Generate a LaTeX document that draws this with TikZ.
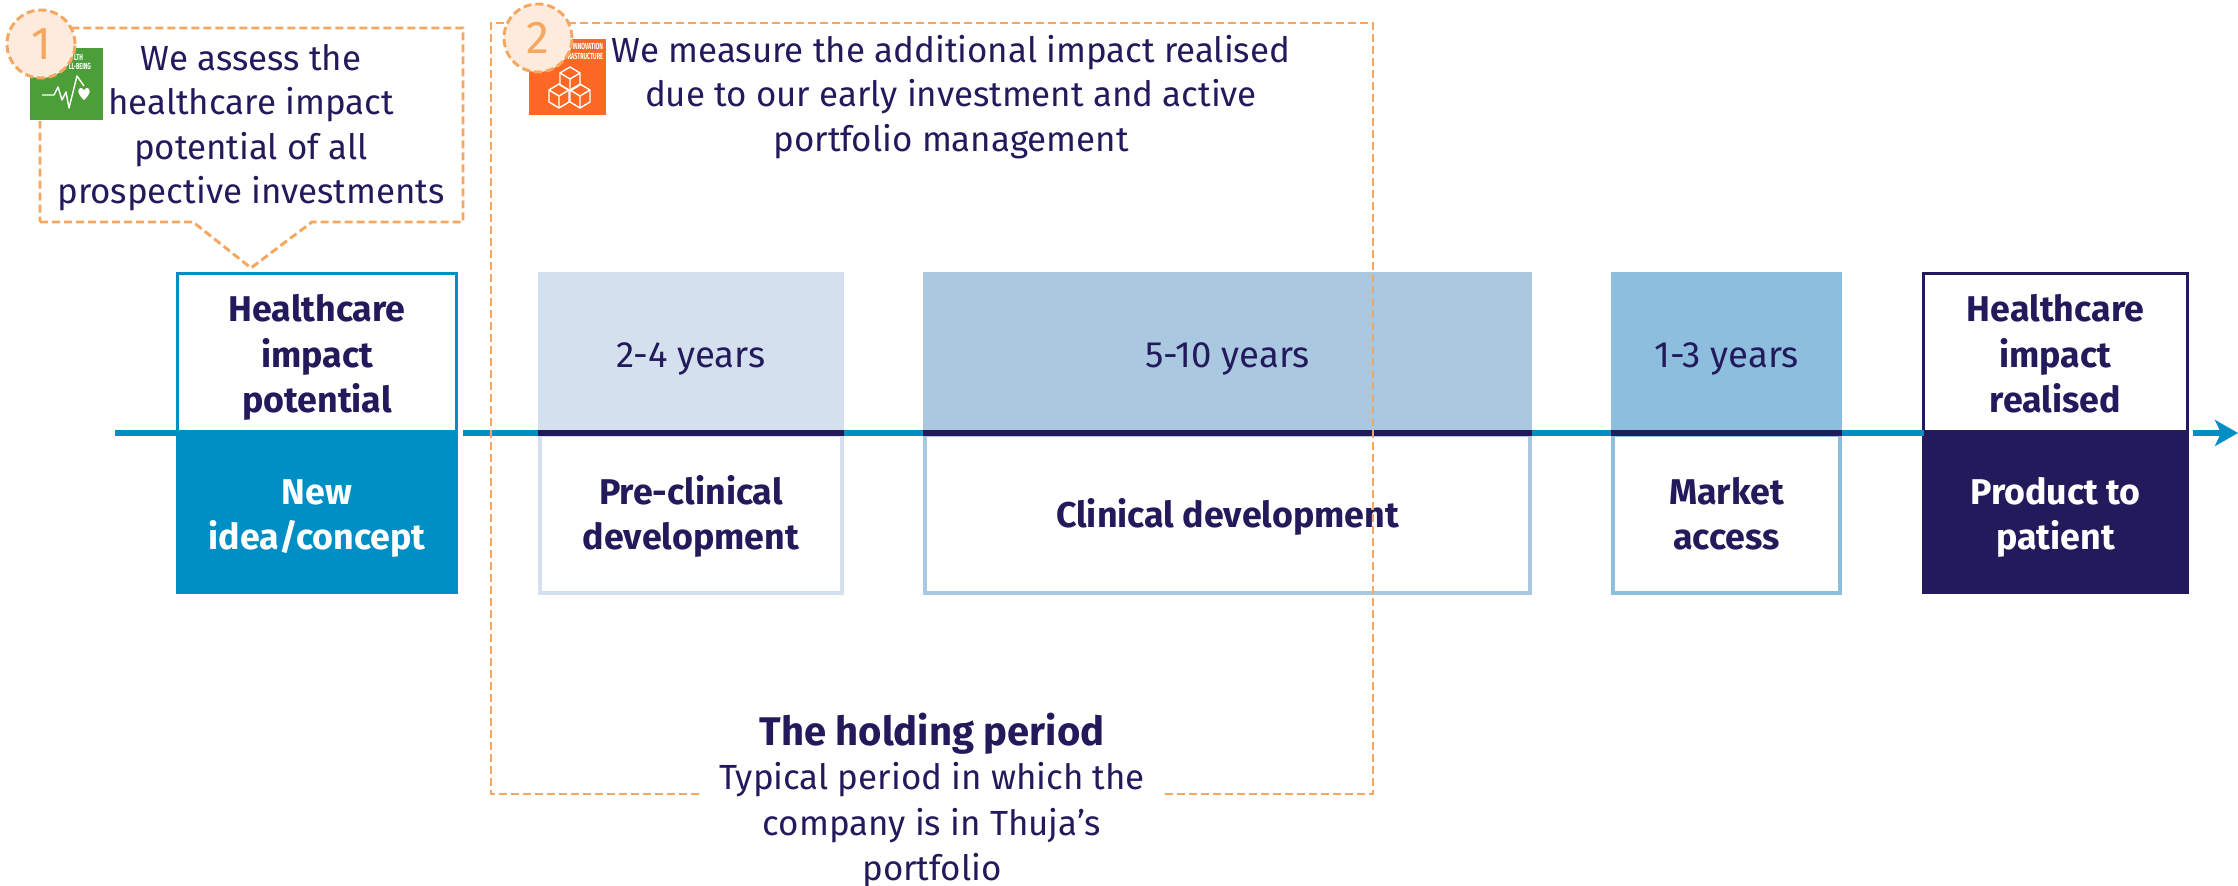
\documentclass[tikz,border=0pt]{standalone}
\usepackage{fontspec}
\setmainfont{Fira Sans}
\usetikzlibrary{arrows.meta}
\definecolor{navy}{HTML}{231A5C}
\definecolor{tblue}{HTML}{008FC5}
\definecolor{pale}{HTML}{D4E0EE}
\definecolor{midb}{HTML}{ABC8E1}
\definecolor{skyb}{HTML}{8DBEDD}
\definecolor{dorange}{HTML}{F5A75F}
\definecolor{peach}{HTML}{FDEBDD}
\definecolor{sdggreen}{HTML}{4C9F38}
\definecolor{sdgorange}{HTML}{FD6925}
\tikzset{
  x=0.5pt,y=-0.5pt,
  every node/.style={inner sep=0pt,outer sep=0pt},
  body/.style={text=navy,align=center,font=\fontsize{17.45}{22.3}\selectfont},
  years/.style={text=navy,align=center,font=\fontsize{18.3}{22.3}\selectfont},
  strong/.style={text=navy,align=center,font=\fontsize{17.9}{22.6}\selectfont\bfseries},
  invstrong/.style={strong,text=white},
  panel/.style={minimum height=80.5pt},
  lower/.style={draw=#1,line width=2pt,minimum height=79pt,fill=white},
  toplined/.style={draw=#1,line width=1.5pt,minimum height=79pt,fill=white},
  solid block/.style={fill=#1,minimum height=81pt},
  dashline/.style={draw=dorange,line width=1.45pt,dash pattern=on 4pt off 2pt},
  badge/.style={circle,dashline,fill=peach,minimum size=34pt,text=dorange,font=\fontsize{23}{23}\selectfont},
  timeline/.style={draw=tblue,line width=2.8pt},
  phase line/.style={draw=navy,line width=2.8pt},
  icon/.style={draw=white,line width=0.7pt,line join=round},
  sdgtext/.style={text=white,font=\fontsize{4.4}{5}\selectfont\bfseries,anchor=east},
}
\newcommand{\isocube}[2]{%
  \draw[icon] (#1-10,#2-6) -- (#1,#2-12) -- (#1+10,#2-6) -- (#1+10,#2+6) -- (#1,#2+12) -- (#1-10,#2+6) -- cycle;
  \draw[icon] (#1-10,#2-6) -- (#1,#2) -- (#1+10,#2-6) (#1,#2) -- (#1,#2+12);
}
\newcommand{\narrowtxt}[1]{\scalebox{0.62}[1]{#1}}
\begin{document}
\begin{tikzpicture}
\useasboundingbox (0,0) rectangle (2238,886);
% timeline coordinates
\coordinate (tstart) at (115,433);
\coordinate (tmid) at (463,433);
\coordinate (arrowstart) at (2193,433);
\coordinate (arrowend) at (2238,433);
% upper panels
\node[toplined=tblue,minimum width=139.5pt] (hipot) at (317,353) {};
\node[panel,fill=pale,minimum width=153pt] (y24) at (691,352.5) {};
\node[panel,fill=midb,minimum width=304.5pt] (y510) at (1227.5,352.5) {};
\node[panel,fill=skyb,minimum width=115.5pt] (y13) at (1726.5,352.5) {};
\node[toplined=navy,minimum width=132pt] (hireal) at (2055.5,353) {};
% lower panels
\node[solid block=tblue,minimum width=141pt] (newidea) at (317,513) {};
\node[lower=pale,minimum width=151pt] (preclin) at (691,514) {};
\node[lower=midb,minimum width=302.5pt] (clin) at (1227.5,514) {};
\node[lower=skyb,minimum width=113.5pt] (market) at (1726.5,514) {};
\node[solid block=navy,minimum width=133.5pt] (product) at (2055.5,513) {};
% timeline
\draw[timeline] (tstart) -- (tstart -| hipot.west);
\draw[timeline] (tmid) -- (tmid -| y24.west);
\draw[timeline] (tmid -| y24.east) -- (tmid -| y510.west);
\draw[timeline] (tmid -| y510.east) -- (tmid -| y13.west);
\draw[timeline] (tmid -| y13.east) -- (tmid -| hireal.west);
\draw[timeline,-{Stealth[length=11.5pt,width=13pt,inset=3pt]}] (arrowstart) -- (arrowend);
\draw[phase line] (tmid -| y24.west) -- (tmid -| y24.east);
\draw[phase line] (tmid -| y510.west) -- (tmid -| y510.east);
\draw[phase line] (tmid -| y13.west) -- (tmid -| y13.east);
% panel texts
\node[strong] (t1) at (317,358) {\strut Healthcare\\impact\\potential\strut};
\node[years] (t2) at (691,359) {\strut 2-4 years};
\node[years] (t3) at (1227.5,359) {\strut 5-10 years};
\node[years] (t4) at (1726.5,359) {\strut 1-3 years};
\node[strong] (t5) at (2055.5,358) {\strut Healthcare\\impact\\realised\strut};
\node[invstrong] (t6) at (317,518) {\strut New\\idea/concept\strut};
\node[strong] (t7) at (691,518) {\strut Pre-clinical\\development\strut};
\node[strong] (t8) at (1227.5,518) {\strut Clinical development};
\node[strong] (t9) at (1726.5,518) {\strut Market\\access\strut};
\node[invstrong] (t10) at (2055.5,518) {\strut Product to\\patient\strut};
% callout 1
\draw[dashline] (40,222) -- (193,222) -- (251,268) -- (312,222) -- (463,222) -- (463,28) -- (40,28) -- cycle;
\node[body] (assess) at (251,128) {\strut We assess the\\healthcare impact\\potential of all\\prospective investments\strut};
% SDG 3 icon
\fill[sdggreen,draw=white,line width=0.3pt] (29,47) rectangle (103,120);
\node[sdgtext] (sdg3a) at (83,57) {\narrowtxt{LTH}};
\node[sdgtext] (sdg3b) at (91,66) {\narrowtxt{LL-BEING}};
\draw[icon] (42,95) -- (54,95) -- (58,87) -- (62,100) -- (66,92) -- (69,108) -- (77,76) -- (84,86);
\fill[white] (84,100) .. controls (77,94) and (77,88) .. (81,88) .. controls (83,88) and (84,90) .. (84,91) .. controls (84,90) and (85,88) .. (87,88) .. controls (91,88) and (91,94) .. (84,100);
% SDG 9 icon
\fill[sdgorange] (529,39) rectangle (606,115);
\node[sdgtext] (sdg9a) at (603,47) {\narrowtxt{, INNOVATION}};
\node[sdgtext] (sdg9b) at (603,56) {\narrowtxt{RASTRUCTURE}};
\isocube{570}{79}
\isocube{559}{96}
\isocube{580}{96}
% text 2 and holding period
\node[body] (measure) at (951,98) {\strut We measure the additional impact realised\\due to our early investment and active\\portfolio management\strut};
\node[text=navy,font=\fontsize{20}{24}\selectfont\bfseries] (hold) at (932,736) {\strut The holding period};
\node[body,font=\fontsize{17.45}{22.6}\selectfont] (typical) at (932,826) {\strut Typical period in which the\\company is in Thuja’s\\portfolio\strut};
% holding-period frame
\draw[dashline] (699,794) -- (491,794) -- (491,23) -- (1373,23) -- (1373,794) -- (1165,794);
% badges
\node[badge] (b1) at (41,44) {1};
\node[badge] (b2) at (538,38) {2};
\end{tikzpicture}
\end{document}
